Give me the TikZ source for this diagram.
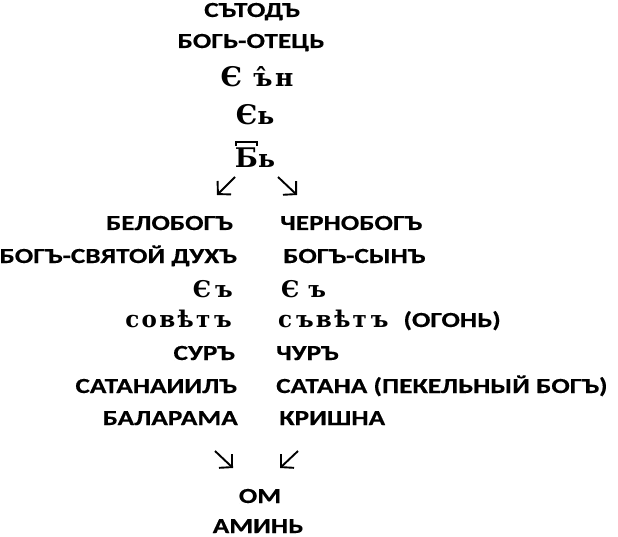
\documentclass[tikz,border=0pt]{standalone}
\usepackage{fontspec}
\setmainfont{Carlito}[FakeStretch=1.27, BoldFeatures={FakeBold=0.4}]
\newfontfamily\slavfont{DejaVu Serif}[LetterSpace=10]
\usetikzlibrary{arrows.meta}
\newcommand\bigYe{{\fontsize{27}{27}\selectfont Є}}
\newcommand\titlo[1]{\setbox0\hbox{#1}%
    \rlap{\raisebox{\dimexpr\ht0+2.5pt}{\hbox to\wd0{\vrule width 1.8pt height 4.5pt\leaders\hrule height 4.5pt depth -2.7pt\hfill\vrule width 1.8pt height 4.5pt}}}\box0}

\begin{document}
\begin{tikzpicture}[
        x=1pt, y=-1pt,
        every node/.style={inner sep=0pt, font=\fontsize{21.5}{24}\selectfont\bfseries},
        word/.style={anchor=base},
        left word/.style={anchor=base east},
        right word/.style={anchor=base west},
        slav/.style={font=\fontsize{23}{26}\selectfont\slavfont\bfseries},
        top slav/.style={font=\fontsize{25}{28}\selectfont\slavfont\bfseries},
        arr/.style={-{Straight Barb[length=9pt,width=19pt]}, line width=1.9pt, line join=miter}
    ]
    \useasboundingbox (0,0) rectangle (618,537);

        % top line
        \node[word] (sutod) at (252,17) {СЪТОДЪ};
        \node[word] (otec) at (251,48) {БОГЬ-ОТЕЦЬ};
        \node[word,top slav] (syn) at (257,87) {\bigYe\ ъ̂н};
        \node[word,top slav] (se) at (255,125) {\bigYe ь};
        \node[word,top slav] (bo) at (255,168) {\titlo{\fontsize{27}{27}\selectfont Б}ь};

        % left column
        \node[left word] (belo) at (233,230) {БЕЛОБОГЪ};
        \node[left word] (duh) at (237,263) {БОГЪ-СВЯТОЙ ДУХЪ};
        \node[left word,slav] (sl) at (233,297) {Є\hspace{4pt}ъ};
        \node[left word,slav] (sovet) at (232,327) {совѣт\,ъ};
        \node[left word] (sur) at (235,360) {СУРЪ};
        \node[left word] (satanail) at (237,393) {САТАНАИИЛЪ};
        \node[left word] (balarama) at (238,425) {БАЛАРАМА};

        % right column
        \node[right word] (cherno) at (280,230) {ЧЕРНОБОГЪ};
        \node[right word] (sin) at (283,263) {БОГЪ-СЫНЪ};
        \node[right word,slav] (sr) at (281,297) {Є\hspace{9pt}ъ};
        \node[right word] (svet) at (278,327) {{\slavfont\fontsize{23}{26}\selectfont с\,ъвѣт\,ъ}\hspace{15pt}(ОГОНЬ)};
        \node[right word] (chur) at (276,360) {ЧУРЪ};
        \node[right word] (satana) at (276,393) {САТАНА (ПЕКЕЛЬНЫЙ БОГЪ)};
        \node[right word] (krishna) at (279,425) {КРИШНА};

        % bottom
        \node[word] (om) at (260,503) {ОМ};
        \node[word] (amin) at (258,533) {АМИНЬ};

        % arrows
        \coordinate (tl1) at (235,177); \coordinate (tl2) at (217,195);
        \coordinate (tr1) at (278,177); \coordinate (tr2) at (297,195);
        \coordinate (bl1) at (215,451); \coordinate (bl2) at (233,468);
        \coordinate (br1) at (298,451); \coordinate (br2) at (280,468);
        \draw[arr] (tl1) -- (tl2);
        \draw[arr] (tr1) -- (tr2);
        \draw[arr] (bl1) -- (bl2);
        \draw[arr] (br1) -- (br2);
    \end{tikzpicture}
\end{document}
